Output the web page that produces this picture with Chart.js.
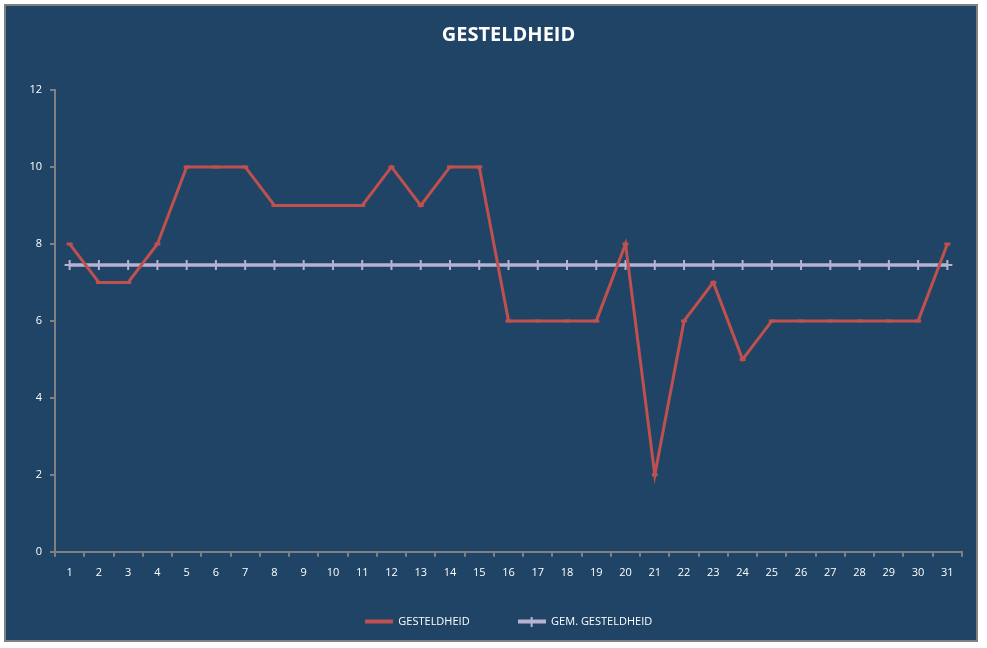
<!DOCTYPE html>
<html>
<head>
<meta charset="utf-8">
<script src="https://cdn.jsdelivr.net/npm/chart.js@4.4.1/dist/chart.umd.min.js"></script>
<style>
html,body{margin:0;padding:0;background:#ffffff;}
#wrap{width:987px;height:648px;position:relative;}
</style>
</head>
<body>
<div id="wrap"><canvas id="c" width="987" height="648"></canvas></div>
<script>
const days = ['1','2','3','4','5','6','7','8','9','10','11','12','13','14','15','16','17','18','19','20','21','22','23','24','25','26','27','28','29','30','31'];
const gesteldheid = [8,7,7,8,10,10,10,9,9,9,9,10,9,10,10,6,6,6,6,8,2,6,7,5,6,6,6,6,6,6,8];
const gemGesteldheid = [7.45,7.45,7.45,7.45,7.45,7.45,7.45,7.45,7.45,7.45,7.45,7.45,7.45,7.45,7.45,7.45,7.45,7.45,7.45,7.45,7.45,7.45,7.45,7.45,7.45,7.45,7.45,7.45,7.45,7.45,7.45];
const yTicks = [0,2,4,6,8,10,12];

const FONT = "'Open Sans', 'DejaVu Sans', sans-serif";
const RED = '#C0504D';
const LAV = '#B7B2D2';

function legendIcon(color, withCross) {
  const c = document.createElement('canvas');
  c.width = 28; c.height = 10;
  const x = c.getContext('2d');
  x.fillStyle = color;
  x.fillRect(0, 3, 28, 4);
  if (withCross) x.fillRect(13, 0, 2, 10);
  return c;
}

const bgPlugin = {
  id: 'bg',
  beforeDraw(chart) {
    const ctx = chart.ctx;
    ctx.save();
    ctx.fillStyle = '#ffffff';
    ctx.fillRect(0, 0, chart.width, chart.height);
    ctx.fillStyle = '#1F4465';
    ctx.fillRect(5, 5, 972, 636);
    ctx.strokeStyle = '#808080';
    ctx.lineWidth = 2;
    ctx.strokeRect(5, 5, 972, 636);
    ctx.restore();
  }
};

const legendShift = {
  id: 'legendShift',
  afterLayout(chart) {
    const lg = chart.legend;
    if (lg) { lg.top -= 20; lg.bottom -= 20; }
  }
};

const icons = [legendIcon(RED, false), legendIcon(LAV, true)];

new Chart(document.getElementById('c'), {
  type: 'line',
  data: {
    labels: days,
    datasets: [
      {
        label: 'GESTELDHEID',
        data: gesteldheid,
        borderColor: RED,
        backgroundColor: RED,
        borderWidth: 3,
        pointStyle: 'line',
        pointRadius: 3,
        pointBorderWidth: 3,
        pointBorderColor: RED,
        tension: 0,
        order: 1
      },
      {
        label: 'GEM. GESTELDHEID',
        data: gemGesteldheid,
        borderColor: LAV,
        backgroundColor: LAV,
        borderWidth: 3.5,
        pointStyle: 'cross',
        pointRadius: 5,
        pointBorderWidth: 2,
        pointBorderColor: LAV,
        tension: 0,
        order: 2
      }
    ]
  },
  options: {
    responsive: false,
    animation: false,
    layout: { padding: { left: 26, right: 25, top: 6, bottom: -9 } },
    plugins: {
      title: {
        display: true,
        fullSize: false,
        text: 'GESTELDHEID',
        color: '#ffffff',
        font: { family: FONT, size: 20, weight: 'bold' },
        padding: { top: 17, bottom: 43 }
      },
      legend: {
        position: 'bottom',
        fullSize: false,
        labels: {
          color: '#ffffff',
          font: { family: FONT, size: 11 },
          usePointStyle: true,
          pointStyleWidth: 28,
          boxHeight: 10,
          padding: 48,
          generateLabels(chart) {
            const base = Chart.defaults.plugins.legend.labels.generateLabels(chart);
            return base.map((l, i) => Object.assign(l, { pointStyle: icons[i] }));
          }
        }
      },
      tooltip: { enabled: false }
    },
    scales: {
      x: {
        offset: true,
        grid: {
          display: true,
          offset: true,
          drawOnChartArea: false,
          drawTicks: true,
          tickLength: 5,
          color: '#808080',
          lineWidth: 2
        },
        border: { display: true, color: '#808080', width: 2 },
        ticks: {
          color: '#ffffff',
          font: { family: FONT, size: 11 },
          padding: 9,
          maxRotation: 0,
          autoSkip: false
        }
      },
      y: {
        min: 0,
        max: 12,
        afterBuildTicks(axis) { axis.ticks = yTicks.map(v => ({ value: v })); },
        afterFit(axis) { axis.width = 29; },
        grid: {
          display: true,
          drawOnChartArea: false,
          drawTicks: true,
          tickLength: 5,
          color: '#808080',
          lineWidth: 2
        },
        border: { display: true, color: '#808080', width: 2 },
        ticks: {
          color: '#ffffff',
          font: { family: FONT, size: 11 },
          padding: 8
        }
      }
    }
  },
  plugins: [bgPlugin, legendShift]
});
</script>
</body>
</html>
